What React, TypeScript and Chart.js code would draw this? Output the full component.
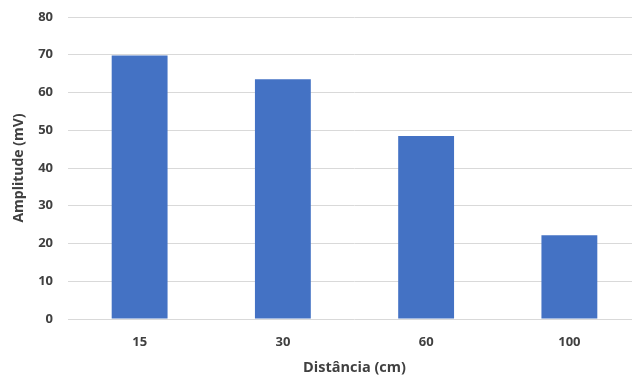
import React, { useEffect, useRef } from "react";
import { Chart, registerables } from "chart.js";

Chart.register(...registerables);

const categories = ["15", "30", "60", "100"];
const amplitudes = [69.8, 63.5, 48.5, 22.2];
const yTicks = [0, 10, 20, 30, 40, 50, 60, 70, 80];

const FONT = "'Open Sans', Lato, sans-serif";
const TEXT = "#404040";

export default function App() {
  const ref = useRef<HTMLCanvasElement | null>(null);

  useEffect(() => {
    if (!ref.current) return;
    const chart = new Chart(ref.current, {
      type: "bar",
      data: {
        labels: categories,
        datasets: [
          {
            label: "Amplitude",
            data: amplitudes,
            backgroundColor: "#4472C4",
            borderWidth: 0,
            categoryPercentage: 1,
            barPercentage: 0.39,
          },
        ],
      },
      options: {
        responsive: false,
        animation: false,
        layout: { padding: { top: 0, right: 0, bottom: 0, left: 0 } },
        plugins: { legend: { display: false }, tooltip: { enabled: false } },
        scales: {
          x: {
            grid: { display: false, drawTicks: false },
            border: { display: false },
            ticks: {
              padding: 15,
              color: TEXT,
              font: { family: FONT, size: 13, weight: "bold" },
            },
            title: {
              display: true,
              text: "Distância (cm)",
              color: TEXT,
              font: { family: FONT, size: 14.5, weight: "bold" },
              padding: { top: 0, bottom: 2 },
            },
            afterFit: (s: any) => {
              s.height = 60;
            },
          },
          y: {
            min: 0,
            max: 80,
            afterBuildTicks: (s: any) => {
              s.ticks = yTicks.map((v) => ({ value: v }));
            },
            grid: { color: "#d9d9d9", lineWidth: 1, drawTicks: false },
            border: { display: false },
            ticks: {
              padding: 15,
              color: TEXT,
              font: { family: FONT, size: 13, weight: "bold" },
            },
            title: {
              display: true,
              text: "Amplitude (mV)",
              color: TEXT,
              font: { family: FONT, size: 14, weight: "bold" },
              padding: { top: 11, bottom: 0 },
            },
            afterFit: (s: any) => {
              s.width = 68;
              s.paddingTop = 17;
              s.paddingBottom = 10;
            },
          },
        },
      },
    });
    return () => chart.destroy();
  }, []);

  return (
    <div
      style={{
        position: "absolute",
        left: 0,
        top: 0,
        width: 632,
        height: 379,
        overflow: "hidden",
        background: "#fff",
      }}
    >
      <canvas ref={ref} width={641} height={379} style={{ display: "block" }} />
    </div>
  );
}
